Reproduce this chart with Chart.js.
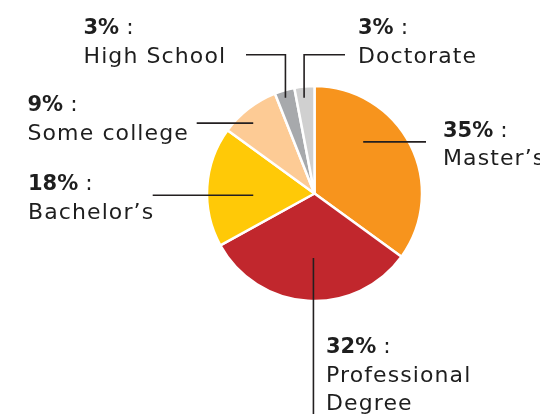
<!DOCTYPE html>
<html>
<head>
<meta charset="utf-8">
<script src="https://cdn.jsdelivr.net/npm/chart.js@4/dist/chart.umd.min.js"></script>
<style>
  html, body { margin: 0; padding: 0; background: #ffffff; }
  #wrap { width: 540px; height: 414px; position: relative; overflow: hidden; }
</style>
</head>
<body>
<div id="wrap"><canvas id="chart" width="540" height="414"></canvas></div>
<script>
// Highest level of education, share of respondents (%)
const categories = ["Master’s", "Professional Degree", "Bachelor’s", "Some college", "High School", "Doctorate"];
const shares = [35, 32, 18, 9, 3, 3];
const sliceColors = ["#F7941D", "#C1272D", "#FFC907", "#FDCB95", "#A7A9AC", "#D0D0D0"];
// How each category name is broken over lines in its callout
const labelLines = [["Master’s"], ["Professional", "Degree"], ["Bachelor’s"], ["Some college"], ["High School"], ["Doctorate"]];

// Callout layout: where the leader line leaves the slice (fraction along the arc,
// fraction of the radius), how it is routed, and where its text block sits.
const callouts = [
  { frac: 0.344, rf: 0.66, path: [["h", 426]],            tx: 443, ty: 136.7 },
  { frac: 0.477, rf: 0.60, path: [["v", 430]],            tx: 326, ty: 353.3 },
  { frac: 0.42,  rf: 0.57, path: [["h", 152.7]],          tx: 28,  ty: 190 },
  { frac: 0.40,  rf: 0.868, path: [["h", 196.7]],         tx: 27.5, ty: 111 },
  { frac: 0.435, rf: 0.93, path: [["v", 54.7], ["h", 246]], tx: 83.5, ty: 34 },
  { frac: 0.426, rf: 0.896, path: [["v", 54.7], ["h", 345]], tx: 358, ty: 34 }
];

const FONT_FAMILY = '"DejaVu Sans", "Open Sans", sans-serif';
const FONT_SIZE = 22;
const LINE_HEIGHT = 28.5;

const calloutPlugin = {
  id: 'callouts',
  afterDatasetsDraw(chart) {
    const ctx = chart.ctx;
    const meta = chart.getDatasetMeta(0);
    ctx.save();
    meta.data.forEach((arc, i) => {
      const c = callouts[i];
      const p = arc.getProps(['x', 'y', 'startAngle', 'endAngle', 'outerRadius'], true);
      const a = p.startAngle + c.frac * (p.endAngle - p.startAngle);
      let x = p.x + Math.cos(a) * c.rf * p.outerRadius;
      let y = p.y + Math.sin(a) * c.rf * p.outerRadius;

      // leader line
      ctx.beginPath();
      ctx.moveTo(x, y);
      c.path.forEach(([dir, to]) => {
        if (dir === 'h') x = to; else y = to;
        ctx.lineTo(x, y);
      });
      ctx.strokeStyle = '#231F20';
      ctx.lineWidth = 1.6;
      ctx.lineCap = 'butt';
      ctx.lineJoin = 'miter';
      ctx.stroke();

      // text block: bold value, regular colon, then the category name
      ctx.fillStyle = '#1E1E1E';
      ctx.textBaseline = 'alphabetic';
      ctx.textAlign = 'left';
      const pct = shares[i] + '%';
      ctx.letterSpacing = '0px';
      ctx.font = `bold 21px ${FONT_FAMILY}`;
      ctx.fillText(pct, c.tx, c.ty);
      const w = ctx.measureText(pct).width;
      ctx.font = `${FONT_SIZE}px ${FONT_FAMILY}`;
      ctx.fillText(' :', c.tx + w, c.ty);
      ctx.letterSpacing = '1.1px';
      labelLines[i].forEach((line, k) => {
        ctx.fillText(line, c.tx, c.ty + LINE_HEIGHT * (k + 1));
      });
    });
    ctx.restore();
  }
};

new Chart(document.getElementById('chart'), {
  type: 'pie',
  data: {
    labels: categories,
    datasets: [{
      data: shares,
      backgroundColor: sliceColors,
      borderColor: '#FFFFFF',
      borderWidth: 2.5,
      radius: 107.5
    }]
  },
  options: {
    responsive: false,
    animation: false,
    layout: { padding: { left: 89, right: 0, top: 0, bottom: 27 } },
    plugins: {
      legend: { display: false },
      tooltip: { enabled: false }
    }
  },
  plugins: [calloutPlugin]
});
</script>
</body>
</html>
